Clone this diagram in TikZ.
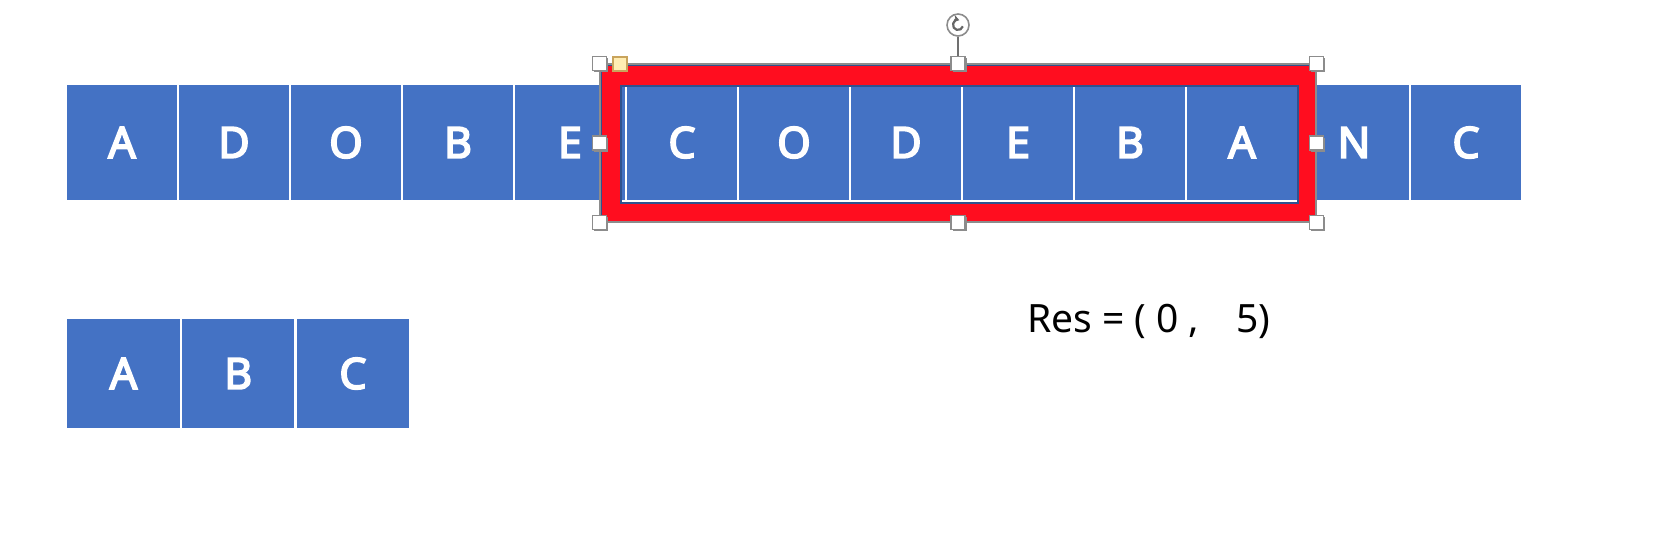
\documentclass[tikz,border=0pt]{standalone}
\usepackage{fontspec}
\setmainfont{Noto Sans}
\newfontfamily\cellfont{Noto Sans}[AutoFakeBold=4]
\usetikzlibrary{arrows.meta}
\definecolor{cellblue}{HTML}{4472C4}
\definecolor{framered}{HTML}{FF0D1F}
\definecolor{edgeblue}{HTML}{2F528F}
\definecolor{selgray}{HTML}{8C8C8C}
\definecolor{adjyellow}{HTML}{FFEDB3}
\definecolor{adjbrown}{HTML}{C9A45C}
\begin{document}
\begin{tikzpicture}[x=0.5pt,y=-0.5pt,
 cell/.style={rectangle, fill=cellblue, inner sep=0pt, minimum width=55pt, minimum height=57.5pt, text=white, font=\cellfont\fontsize{21.5}{24}\selectfont\bfseries},
 cellb/.style={cell, minimum width=56.25pt, minimum height=54.5pt},
 handle/.style={rectangle, draw=selgray, fill=white, line width=0.6pt, minimum size=7pt, inner sep=0pt},
 hshadow/.style={rectangle, fill=black!45, minimum size=7pt, inner sep=0pt}
]
\useasboundingbox (0,0) rectangle (1668,554);
\fill[white] (0,0) rectangle (1668,554);
% top row
\foreach \l [count=\i from 0] in {A,D,O,B,E,C,O,D,E,B,A,N,C}
  \node[cell] (t\i) at ({122+112*\i},142.5) {\l};
% bottom row
\foreach \l [count=\i from 0] in {A,B,C}
  \node[cellb] (b\i) at ({123.5+114.7*\i},373.5) {\l};
% red frame
\node[rectangle, draw=framered, line width=10pt, outer sep=0pt, minimum width=348pt, minimum height=68.5pt, inner sep=0pt] (frame) at (959,144) {};
\draw[edgeblue, line width=0.7pt] ([shift={(10,10.5)}]frame.north west) rectangle ([shift={(-9,-9.5)}]frame.south east);
\draw[edgeblue, line width=0.7pt] ([shift={(-10,-10)}]frame.north west) rectangle ([shift={(9.5,9.5)}]frame.south east);
% selection box
\node[rectangle, draw=selgray, line width=0.8pt, minimum width=358pt, minimum height=79pt, inner sep=0pt] (sel) at (958,143) {};
\foreach \a/\n in {north west/TL, north/TM, north east/TR, west/ML, east/MR, south west/BL, south/BM, south east/BR}{
  \node[hshadow] at ([shift={(1.5,1.5)}]sel.\a) {};
  \node[handle] (h\n) at (sel.\a) {};
}
% adjustment handle
\node[rectangle, fill=adjyellow, draw=adjbrown, line width=0.6pt, minimum size=7pt, inner sep=0pt] (adj) at (620,64) {};
% rotation handle
\node[circle, draw=selgray, fill=white, line width=0.8pt, minimum size=11pt, inner sep=0pt] (rot) at (958,25) {};
\draw[selgray!80!black, line width=0.9pt] (rot.south) -- (hTM.north);
\draw[black!60, line width=1.1pt, -{Stealth[length=3pt,width=4pt]}] ([shift={(15:5)}]rot.center) arc[start angle=15, end angle=285, radius=5];
% result text
\node[anchor=base, font=\fontsize{19.5}{22}\selectfont] (res) at (1148.7,332) {Res = ( 0 ,\ \ \ \,5)};
\end{tikzpicture}
\end{document}
